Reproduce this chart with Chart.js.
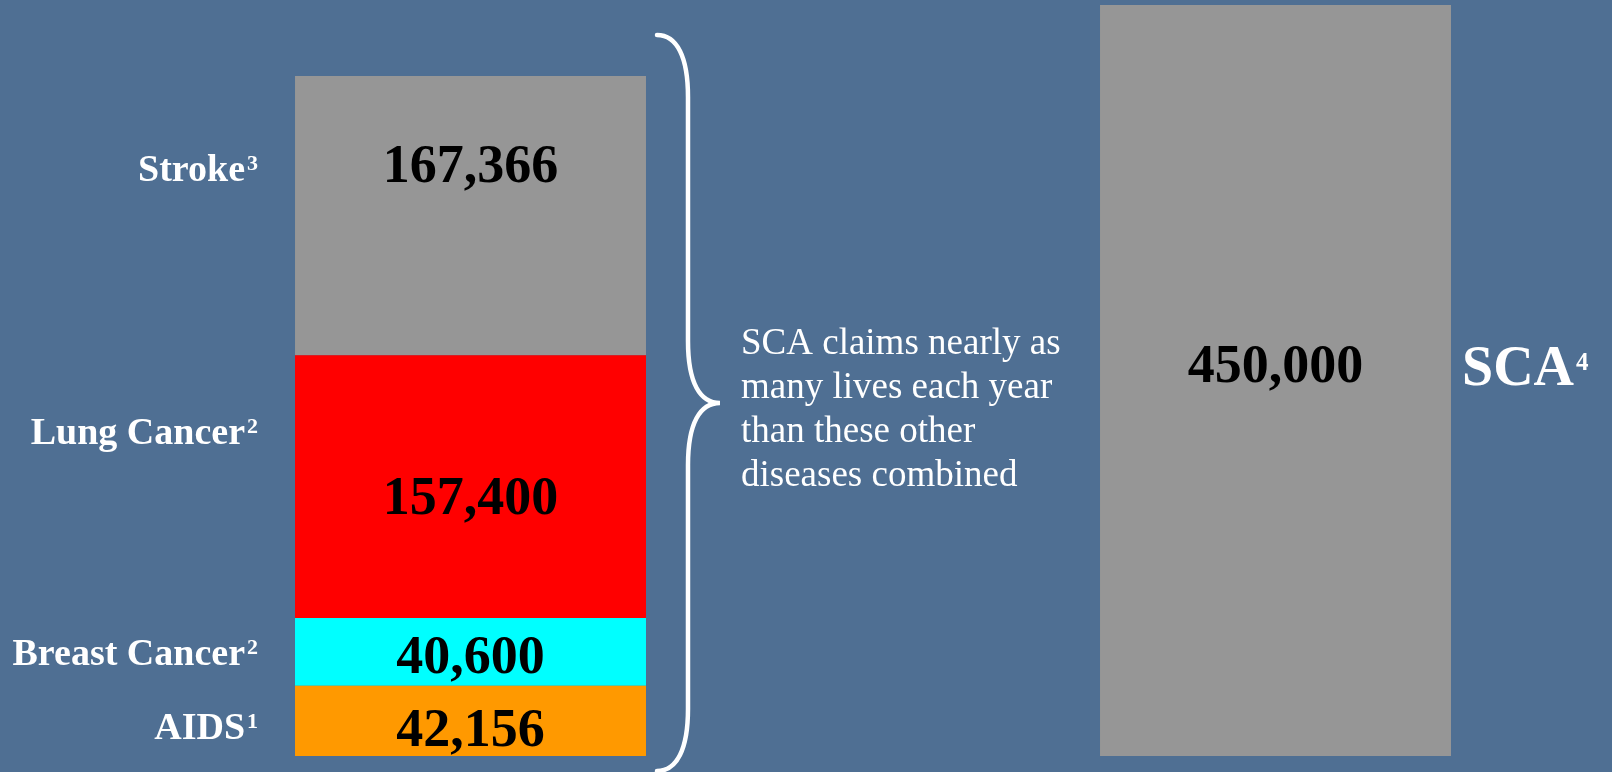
<!DOCTYPE html>
<html>
<head>
<meta charset="utf-8">
<title>SCA vs other diseases</title>
<script src="https://cdn.jsdelivr.net/npm/chart.js@4.4.0/dist/chart.umd.min.js"></script>
<style>
body { margin: 0; background: #4F6F93; overflow: hidden; }
#wrap { width: 1612px; height: 772px; }
</style>
</head>
<body>
<div id="wrap"><canvas id="mycanvas" width="1612" height="772"></canvas></div>
<script>
// deaths per year, stacked from the bottom up
var categories = ['AIDS', 'Breast Cancer', 'Lung Cancer', 'Stroke'];
var footnotes = ['1', '2', '2', '3'];
var deaths = [42156, 40600, 157400, 167366];

var scaName = 'SCA';
var scaNote = '4';
var scaDeaths = 450000;

// column slots on the x axis (middle one left empty for the brace + note)
var columns = ['Other diseases', '', 'SCA'];

var noteLines = ['SCA claims nearly as', 'many lives each year', 'than these other', 'diseases combined'];

var colors = ['#FF9900', '#00FFFF', '#FF0000', '#969696'];
var scaColor = '#969696';

var serif = '"Liberation Serif", "Times New Roman", serif';

function drawSup(ctx, text, sup, x, y, size, supSize, raise, align) {
	ctx.font = 'bold ' + size + 'px ' + serif;
	var w1 = ctx.measureText(text).width;
	ctx.font = 'bold ' + supSize + 'px ' + serif;
	var w2 = ctx.measureText(sup).width;
	var left = align == 'right' ? x - w1 - w2 - 1 : x;
	var base = y + size * 0.33;
	ctx.textAlign = 'left';
	ctx.textBaseline = 'alphabetic';
	ctx.font = 'bold ' + size + 'px ' + serif;
	ctx.fillText(text, left, base);
	ctx.font = 'bold ' + supSize + 'px ' + serif;
	ctx.fillText(sup, left + w1 + 2, base - raise);
}

var labelPlugin = {
	id: 'labels',
	afterDatasetsDraw: function(chart) {
		var ctx = chart.ctx;
		ctx.save();

		// where in each segment the texts sit (fraction from the top)
		var valuePos = [0.666, 0.61, 0.551, 0.33];
		var namePos = [0.577, 0.507, 0.29, 0.33];

		var stackTop = 0, stackRight = 0;
		for (var i = 0; i < categories.length; i++) {
			var bar = chart.getDatasetMeta(i).data[0];
			var h = bar.base - bar.y;
			stackTop = bar.y;
			stackRight = bar.x + bar.width / 2;

			ctx.fillStyle = '#000';
			ctx.font = 'bold 54px ' + serif;
			ctx.textAlign = 'center';
			ctx.textBaseline = 'middle';
			ctx.fillText(deaths[i].toLocaleString('en-US'), bar.x, bar.y + h * valuePos[i]);

			ctx.fillStyle = '#fff';
			drawSup(ctx, categories[i], footnotes[i], bar.x - bar.width / 2 - 38, bar.y + h * namePos[i], 38, 22, 11, 'right');
		}

		// SCA column
		var sca = chart.getDatasetMeta(categories.length).data[2];
		var sh = sca.base - sca.y;
		ctx.fillStyle = '#000';
		ctx.font = 'bold 54px ' + serif;
		ctx.textAlign = 'center';
		ctx.textBaseline = 'middle';
		ctx.fillText(scaDeaths.toLocaleString('en-US'), sca.x, sca.y + sh * 0.483);
		ctx.fillStyle = '#fff';
		drawSup(ctx, scaName, scaNote, sca.x + sca.width / 2 + 11, sca.y + sh * 0.481, 56, 25, 15, 'left');

		// curly brace
		var top = stackTop - 41;
		var bottom = chart.chartArea.bottom + 15;
		var tipY = (top + bottom) / 2;
		var x0 = stackRight + 11, xm = stackRight + 42, xt = stackRight + 74;
		ctx.strokeStyle = '#fff';
		ctx.lineWidth = 4.5;
		ctx.lineCap = 'round';
		ctx.beginPath();
		ctx.moveTo(x0, top);
		ctx.bezierCurveTo(x0 + 20, top, xm, top + 22, xm, top + 62);
		ctx.lineTo(xm, tipY - 62);
		ctx.bezierCurveTo(xm, tipY - 20, xm + 12, tipY, xt, tipY);
		ctx.bezierCurveTo(xm + 12, tipY, xm, tipY + 20, xm, tipY + 62);
		ctx.lineTo(xm, bottom - 62);
		ctx.bezierCurveTo(xm, bottom - 22, x0 + 20, bottom, x0, bottom);
		ctx.stroke();

		// note next to the brace
		ctx.fillStyle = '#fff';
		ctx.font = '37px ' + serif;
		ctx.textAlign = 'left';
		ctx.textBaseline = 'alphabetic';
		for (var k = 0; k < noteLines.length; k++) {
			ctx.fillText(noteLines[k], xt + 21, tipY - 49 + k * 44);
		}
		ctx.restore();
	}
};

var datasets = [];
for (var i = 0; i < categories.length; i++) {
	datasets.push({
		label: categories[i],
		data: [deaths[i], null, null],
		backgroundColor: colors[i],
		borderWidth: 0,
		stack: 'one'
	});
}
datasets.push({
	label: scaName,
	data: [null, null, scaDeaths],
	backgroundColor: scaColor,
	borderWidth: 0,
	stack: 'one'
});

var ctx = document.getElementById('mycanvas');
var chart = new Chart(ctx, {
	type: 'bar',
	data: { labels: columns, datasets: datasets },
	options: {
		responsive: false,
		animation: false,
		devicePixelRatio: 1,
		barPercentage: 0.872,
		categoryPercentage: 1,
		layout: { padding: { left: 269.25, right: 135.25, top: 5, bottom: 16 } },
		plugins: {
			legend: { display: false },
			tooltip: { enabled: false }
		},
		scales: {
			x: { stacked: true, display: false },
			y: { stacked: true, display: false, min: 0, max: 450000 }
		}
	},
	plugins: [labelPlugin]
});
</script>
</body>
</html>
